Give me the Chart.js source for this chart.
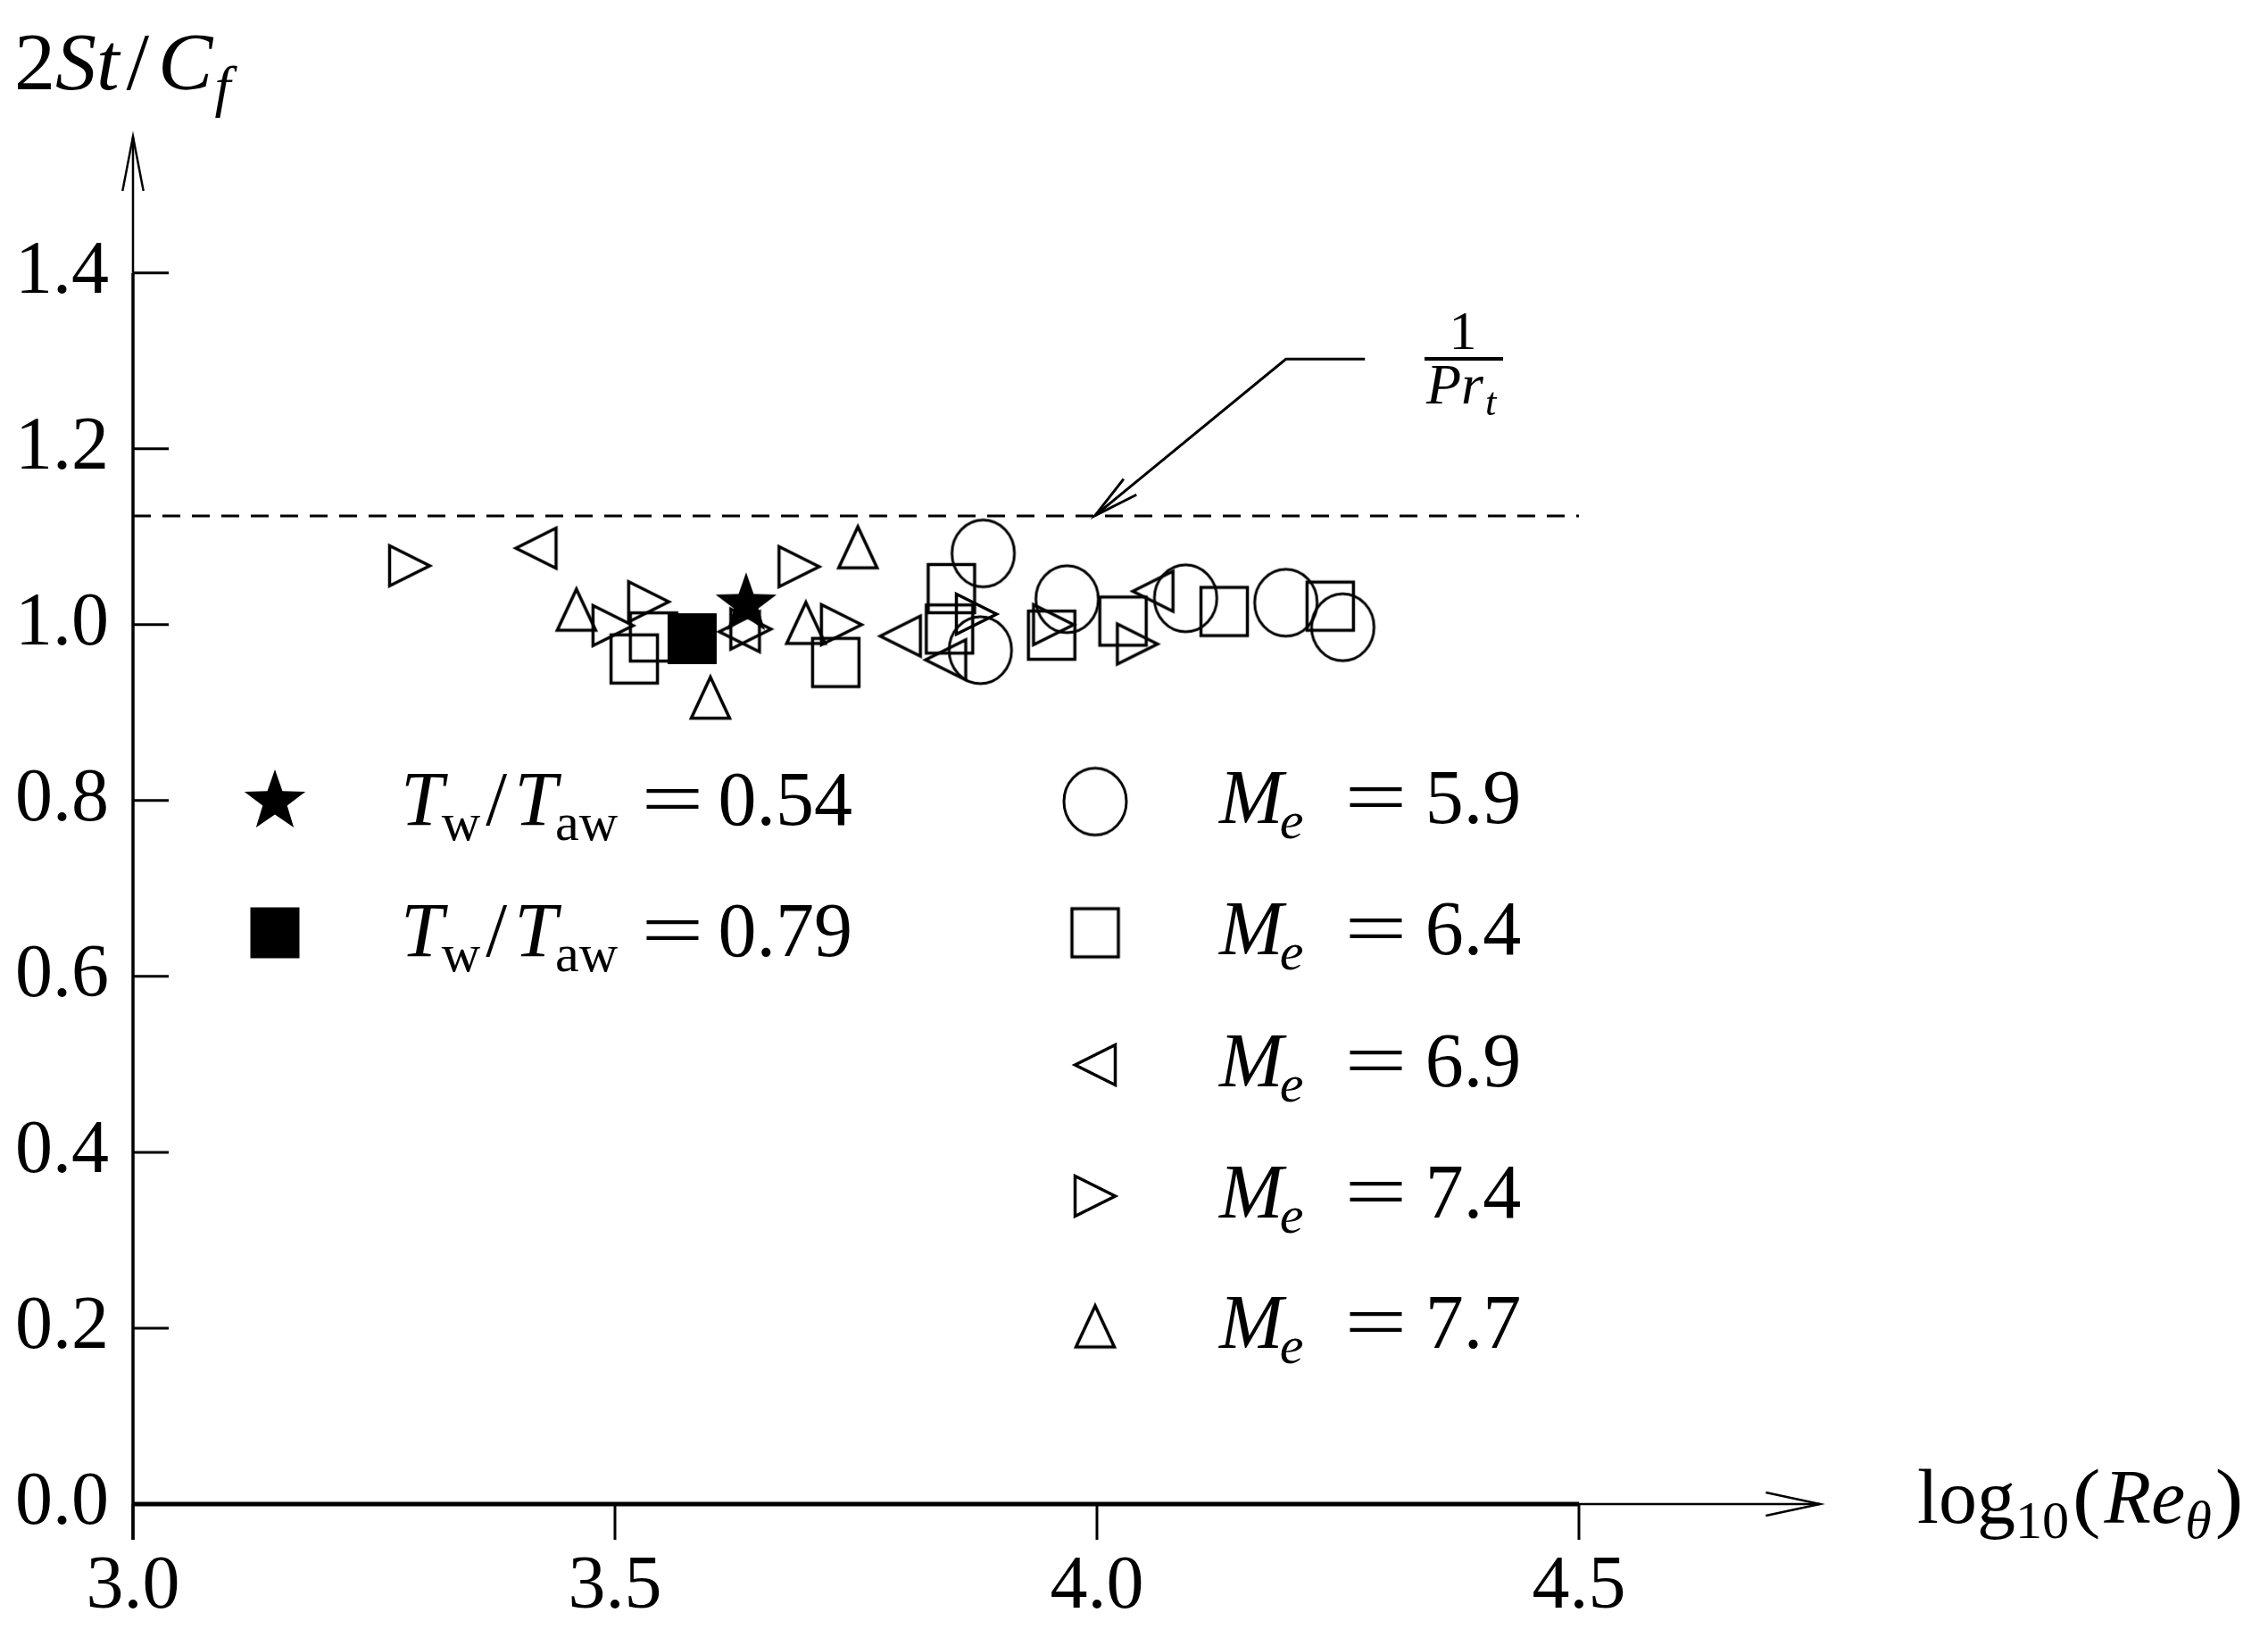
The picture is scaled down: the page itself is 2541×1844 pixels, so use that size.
<!DOCTYPE html>
<html>
<head>
<meta charset="utf-8">
<script src="https://cdn.jsdelivr.net/npm/chart.js@4.4.1/dist/chart.umd.min.js"></script>
<style>
html, body { margin: 0; padding: 0; background: #fff; }
canvas { display: block; }
</style>
</head>
<body>
<canvas id="st-chart" width="2541" height="1844"></canvas>
<script>
// log10(Re_theta) and 2St/Cf
const me59X = [3.882, 3.879, 3.969, 4.092, 4.196, 4.255];
const me59Y = [1.081, 0.971, 1.029, 1.030, 1.025, 0.997];
const me64X = [3.520, 3.540, 3.729, 3.849, 3.847, 3.953, 4.027, 4.132, 4.242];
const me64Y = [0.961, 0.986, 0.957, 1.041, 0.995, 0.988, 1.004, 1.015, 1.021];
const me69X = [3.418, 3.629, 3.796, 3.843, 4.058];
const me69Y = [1.087, 0.992, 0.987, 0.960, 1.038];
const me74X = [3.287, 3.498, 3.535, 3.641, 3.691, 3.735, 3.875, 3.955, 4.042];
const me74Y = [1.067, 0.999, 1.026, 0.995, 1.066, 1.000, 1.012, 1.000, 0.978];
const me77X = [3.460, 3.599, 3.698, 3.752];
const me77Y = [1.017, 0.917, 1.002, 1.088];
const tw054X = [3.636];
const tw054Y = [1.023];
const tw079X = [3.580];
const tw079Y = [0.984];

const prtLineX = [3.0, 4.5];
const prtValue = 1 / 0.89;
const prtArrowX = [4.278, 4.196, 3.998];
const prtArrowY = [1.302, 1.302, 1.124];

const xTicks = [3.0, 3.5, 4.0, 4.5];
const xTickLabels = ["3.0", "3.5", "4.0", "4.5"];
const yTicks = [0.0, 0.2, 0.4, 0.6, 0.8, 1.0, 1.2, 1.4];
const yTickLabels = ["0.0", "0.2", "0.4", "0.6", "0.8", "1.0", "1.2", "1.4"];

const SERIF = '"Liberation Serif", "DejaVu Serif", serif';

function pairs(xs, ys) {
    return xs.map((x, i) => ({ x: x, y: ys[i] }));
}

function makeMarker(shape, w, h, lw) {
    const c = document.createElement("canvas");
    const pad = lw + 6;
    c.width = Math.ceil(w + pad * 2);
    c.height = Math.ceil(h + pad * 2);
    const g = c.getContext("2d");
    const cx = c.width / 2, cy = c.height / 2;
    g.strokeStyle = "#000";
    g.fillStyle = "#000";
    g.lineWidth = lw;
    g.lineJoin = "miter";
    g.beginPath();
    if (shape === "circle") {
        g.ellipse(cx, cy, w / 2, h / 2, 0, 0, Math.PI * 2);
    } else if (shape === "square" || shape === "filled") {
        g.rect(cx - w / 2, cy - h / 2, w, h);
    } else if (shape === "left") {
        g.moveTo(cx - w / 2, cy);
        g.lineTo(cx + w / 2, cy - h / 2);
        g.lineTo(cx + w / 2, cy + h / 2);
        g.closePath();
    } else if (shape === "right") {
        g.moveTo(cx + w / 2, cy);
        g.lineTo(cx - w / 2, cy - h / 2);
        g.lineTo(cx - w / 2, cy + h / 2);
        g.closePath();
    } else if (shape === "up") {
        g.moveTo(cx, cy - h / 2);
        g.lineTo(cx + w / 2, cy + h / 2);
        g.lineTo(cx - w / 2, cy + h / 2);
        g.closePath();
    } else if (shape === "star") {
        const R = w / 2, r = R * 0.4;
        for (let k = 0; k < 10; k++) {
            const a = -Math.PI / 2 + k * Math.PI / 5;
            const rr = k % 2 === 0 ? R : r;
            const px = cx + rr * Math.cos(a), py = cy + rr * Math.sin(a);
            if (k === 0) g.moveTo(px, py); else g.lineTo(px, py);
        }
        g.closePath();
    }
    if (shape === "star" || shape === "filled") g.fill(); else g.stroke();
    return c;
}

const markers = {
    circle: makeMarker("circle", 70, 75, 3),
    square: makeMarker("square", 52, 54, 3.5),
    left: makeMarker("left", 45, 45, 3.5),
    right: makeMarker("right", 45, 45, 3.5),
    up: makeMarker("up", 43, 46, 3.5),
    star: makeMarker("star", 72, 72, 0),
    filled: makeMarker("filled", 55, 57, 0)
};

// text with italic parts and subscripts, sx stretches a glyph sideways
function drawRich(ctx, x, y, parts, size) {
    let cx = x;
    parts.forEach(p => {
        const s = p.sub ? size * 0.7 : size;
        const sx = p.sx || 1;
        ctx.font = (p.it ? "italic " : "") + s + "px " + SERIF;
        const dy = p.sub ? size * 0.2 : 0;
        cx += p.pre || 0;
        ctx.save();
        ctx.translate(cx, y + dy);
        ctx.scale(sx, 1);
        ctx.fillText(p.t, 0, 0);
        ctx.restore();
        cx += ctx.measureText(p.t).width * sx + (p.post || 0);
    });
}

function arrowHead(ctx, x, y, ang, len, spread) {
    ctx.beginPath();
    ctx.moveTo(x - len * Math.cos(ang - spread), y - len * Math.sin(ang - spread));
    ctx.lineTo(x, y);
    ctx.lineTo(x - len * Math.cos(ang + spread), y - len * Math.sin(ang + spread));
    ctx.stroke();
}

const legendLeft = [
    { m: "star", v: "0.54" },
    { m: "filled", v: "0.79" }
];
const legendRight = [
    { m: "circle", v: "5.9" },
    { m: "square", v: "6.4" },
    { m: "left", v: "6.9" },
    { m: "right", v: "7.4" },
    { m: "up", v: "7.7" }
];

const decorations = {
    id: "decorations",
    beforeDatasetsDraw(chart) {
        const ctx = chart.ctx;
        const xs = chart.scales.x, ys = chart.scales.y;
        const x0 = xs.getPixelForValue(3.0);
        const y0 = ys.getPixelForValue(0);
        const xLast = xs.getPixelForValue(xTicks[xTicks.length - 1]);
        const yLast = ys.getPixelForValue(yTicks[yTicks.length - 1]);
        const xEnd = xs.getPixelForValue(xs.max);
        const yEnd = ys.getPixelForValue(ys.max);
        const tl = 40;
        ctx.save();
        ctx.strokeStyle = "#000";
        ctx.lineCap = "butt";
        // y axis
        ctx.lineWidth = 3.5;
        ctx.beginPath();
        ctx.moveTo(x0, y0 + tl);
        ctx.lineTo(x0, yLast);
        ctx.stroke();
        ctx.lineWidth = 2.5;
        ctx.beginPath();
        ctx.moveTo(x0, yLast);
        ctx.lineTo(x0, yEnd);
        ctx.stroke();
        arrowHead(ctx, x0, yEnd, -Math.PI / 2, 62, 0.19);
        // x axis
        ctx.lineWidth = 5;
        ctx.beginPath();
        ctx.moveTo(x0, y0);
        ctx.lineTo(xLast, y0);
        ctx.stroke();
        ctx.lineWidth = 2.5;
        ctx.beginPath();
        ctx.moveTo(xLast, y0);
        ctx.lineTo(xEnd, y0);
        ctx.stroke();
        arrowHead(ctx, xEnd, y0, 0, 62, 0.21);
        // ticks
        ctx.lineWidth = 3;
        yTicks.forEach(v => {
            const py = ys.getPixelForValue(v);
            ctx.beginPath();
            ctx.moveTo(x0, py);
            ctx.lineTo(x0 + tl, py);
            ctx.stroke();
        });
        xTicks.forEach(v => {
            const px = xs.getPixelForValue(v);
            ctx.beginPath();
            ctx.moveTo(px, y0);
            ctx.lineTo(px, y0 + tl);
            ctx.stroke();
        });
        // arrow pointing at 1/Pr_t line
        const pts = prtArrowX.map((x, i) => [xs.getPixelForValue(x), ys.getPixelForValue(prtArrowY[i])]);
        ctx.lineWidth = 3;
        ctx.beginPath();
        pts.forEach((p, i) => { if (i === 0) ctx.moveTo(p[0], p[1]); else ctx.lineTo(p[0], p[1]); });
        ctx.stroke();
        const a = pts[pts.length - 2], b = pts[pts.length - 1];
        arrowHead(ctx, b[0], b[1], Math.atan2(b[1] - a[1], b[0] - a[0]), 52, 0.22);
        ctx.restore();
    },
    afterDraw(chart) {
        const ctx = chart.ctx;
        ctx.save();
        ctx.fillStyle = "#000";
        ctx.textAlign = "left";
        ctx.textBaseline = "alphabetic";

        // axis titles
        drawRich(ctx, 16, 100, [
            { t: "2" }, { t: "St", it: true, post: 8 }, { t: "/", post: 10 },
            { t: "C", it: true }, { t: "f", it: true, sub: true, pre: 2 }
        ], 92);
        drawRich(ctx, 2148, 1706, [
            { t: "log" }, { t: "10", sub: true, post: 4 }, { t: "(", sx: 1.1, post: 4 },
            { t: "Re", it: true }, { t: "θ", it: true, sub: true, post: 4 }, { t: ")", sx: 1.1 }
        ], 86);

        // 1/Pr_t
        ctx.font = "62px " + SERIF;
        ctx.textAlign = "center";
        ctx.fillText("1", 1639, 391);
        ctx.textAlign = "left";
        ctx.fillRect(1596, 400, 88, 4);
        drawRich(ctx, 1598, 452, [
            { t: "Pr", it: true, post: 2 }, { t: "t", it: true, sub: true }
        ], 64);

        // legend
        const rowY = [898, 1045, 1193, 1340, 1486];
        legendLeft.forEach((item, i) => {
            const mk = markers[item.m];
            ctx.drawImage(mk, 308 - mk.width / 2, rowY[i] - mk.height / 2);
            drawRich(ctx, 449, rowY[i] + 26, [
                { t: "T", it: true, post: -2 }, { t: "w", sub: true, post: 6 },
                { t: "/", post: 8 }, { t: "T", it: true, post: -2 }, { t: "aw", sub: true, post: 26 },
                { t: "=", sx: 1.45, post: 16 }, { t: item.v }
            ], 86);
        });
        legendRight.forEach((item, i) => {
            const mk = markers[item.m];
            ctx.drawImage(mk, 1227 - mk.width / 2, rowY[i] - mk.height / 2);
            drawRich(ctx, 1366, rowY[i] + 24, [
                { t: "M", it: true, post: -4 }, { t: "e", it: true, sub: true, post: 46 },
                { t: "=", sx: 1.45, post: 20 }, { t: item.v }
            ], 86);
        });
        ctx.restore();
    }
};

function markerSet(label, xs, ys, marker, order) {
    return {
        label: label,
        data: pairs(xs, ys),
        pointStyle: markers[marker],
        pointRadius: 30,
        pointHoverRadius: 30,
        showLine: false,
        order: order
    };
}

const ctx = document.getElementById("st-chart").getContext("2d");
const tickFont = { family: SERIF, size: 84 };

const stChart = new Chart(ctx, {
    type: "scatter",
    data: {
        datasets: [
            markerSet("Tw/Taw = 0.54", tw054X, tw054Y, "star", 0),
            markerSet("Tw/Taw = 0.79", tw079X, tw079Y, "filled", 1),
            markerSet("Me = 5.9", me59X, me59Y, "circle", 2),
            markerSet("Me = 6.4", me64X, me64Y, "square", 3),
            markerSet("Me = 6.9", me69X, me69Y, "left", 4),
            markerSet("Me = 7.4", me74X, me74Y, "right", 5),
            markerSet("Me = 7.7", me77X, me77Y, "up", 6),
            {
                label: "1/Prt",
                data: prtLineX.map(x => ({ x: x, y: prtValue })),
                showLine: true,
                borderColor: "#000",
                borderWidth: 3,
                borderDash: [20, 13],
                pointRadius: 0,
                fill: false,
                order: 7
            }
        ]
    },
    options: {
        responsive: false,
        animation: false,
        events: [],
        devicePixelRatio: 1,
        layout: {
            padding: { top: 153, right: 502, left: 0, bottom: 0 }
        },
        plugins: {
            legend: { display: false },
            tooltip: { enabled: false }
        },
        scales: {
            x: {
                type: "linear",
                min: 3.0,
                max: 4.75,
                afterBuildTicks: s => { s.ticks = xTicks.map(v => ({ value: v })); },
                afterFit: s => { s.height = 159; },
                grid: { display: false, drawTicks: false },
                border: { display: false },
                ticks: {
                    font: tickFont,
                    color: "#000",
                    padding: 44,
                    autoSkip: false,
                    maxRotation: 0,
                    callback: (v, i) => xTickLabels[i]
                }
            },
            y: {
                type: "linear",
                min: 0,
                max: 1.555,
                afterBuildTicks: s => { s.ticks = yTicks.map(v => ({ value: v })); },
                afterFit: s => { s.width = 149; },
                grid: { display: false, drawTicks: false },
                border: { display: false },
                ticks: {
                    font: tickFont,
                    color: "#000",
                    padding: 27,
                    autoSkip: false,
                    callback: (v, i) => yTickLabels[i]
                }
            }
        }
    },
    plugins: [decorations]
});
</script>
</body>
</html>
